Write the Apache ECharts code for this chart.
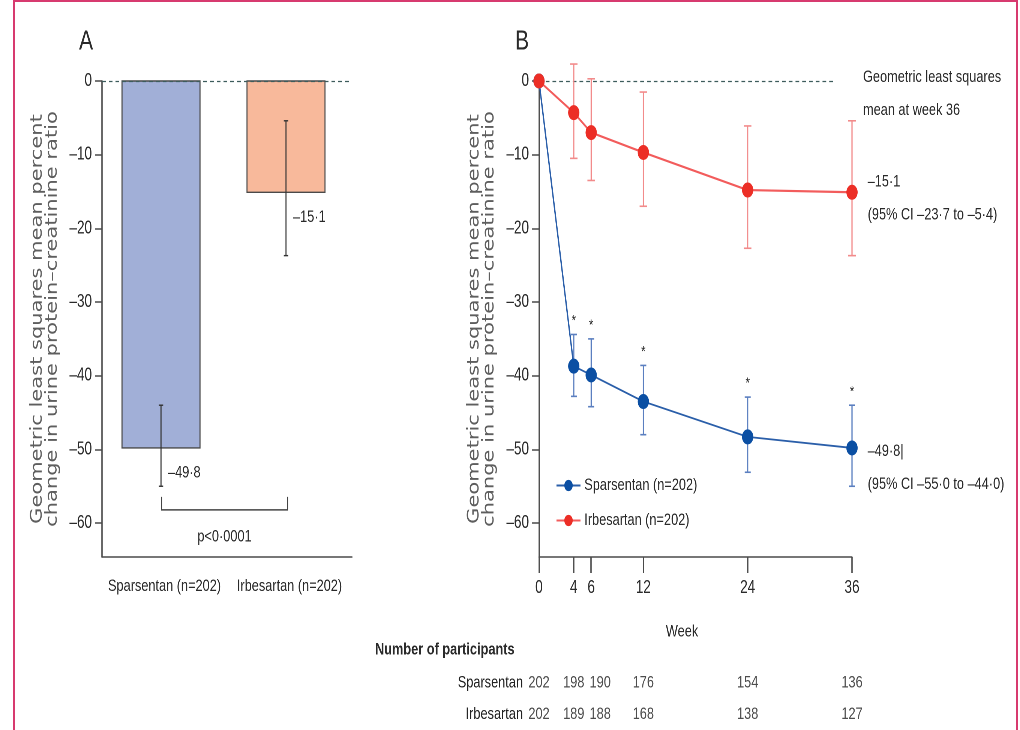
<!DOCTYPE html>
<html>
<head>
<meta charset="utf-8">
<script src="https://cdn.jsdelivr.net/npm/echarts@6/dist/echarts.min.js"></script>
<style>
  html, body { margin: 0; padding: 0; background: #fff; overflow: hidden; width: 1020px; height: 730px; }
  #frame { position: absolute; left: 13px; top: 0px; width: 1001px; height: 740px; border: 2px solid #d73a6f; border-bottom: none; }
  /* the printed figure is squeezed sideways, so the chart is drawn wide and squeezed the same way */
  #chart { position: absolute; left: 0; top: 0; width: 1360px; height: 730px; transform: scaleX(0.75); transform-origin: 0 0; }
</style>
</head>
<body>
<div id="frame"></div>
<div id="chart"></div>
<script>
// panel A: week 36 bars
const groups = ['Sparsentan (n=202)', 'Irbesartan (n=202)'];
const barMean = [-49.8, -15.1];
const barLow = [-55.0, -23.7];
const barHigh = [-44.0, -5.4];
const barText = ['–49·8', '–15·1'];
const yTicks = [0, -10, -20, -30, -40, -50, -60];

// panel B: over time
const weeks = [0, 4, 6, 12, 24, 36];
const sparsMean = [0, -38.7, -39.9, -43.5, -48.3, -49.8];
const sparsLow = [null, -42.8, -44.2, -48.0, -53.1, -55.0];
const sparsHigh = [null, -34.4, -35.0, -38.6, -42.9, -44.0];
const sparsStar = [false, true, true, true, true, true];
const irbMean = [0, -4.3, -7.0, -9.7, -14.8, -15.1];
const irbLow = [null, -10.5, -13.5, -17.0, -22.7, -23.7];
const irbHigh = [null, 2.3, 0.3, -1.5, -6.1, -5.4];
const sparsEnd = ['–49·8|', '(95% CI –55·0 to –44·0)'];
const irbEnd = ['–15·1', '(95% CI –23·7 to –5·4)'];

// number of participants
const rowNames = ['Sparsentan', 'Irbesartan'];
const sparsN = [202, 198, 190, 176, 154, 136];
const irbN = [202, 189, 188, 168, 138, 127];

const S = 0.75;               // horizontal squeeze used in #chart
const X = px => px / S;        // page px -> chart px
const FONT = "'Liberation Sans', Arimo, Arial, sans-serif";
const WIDE = "'DejaVu Sans', Verdana, sans-serif";
const axisColor = '#4a4a4a';
const textColor = '#2a2a2a';
const blue = '#0b4fa3', blueLine = '#2a5ea9', blueBar = '#5b7fc0';
const red = '#ec2e26', redLine = '#f25c5c', redBar = '#f28b8b';
const dash = v => String(v).replace('-', '–');
const yName = 'Geometric least squares mean percent\nchange in urine protein–creatinine ratio';

let myChart = echarts.init(document.getElementById('chart'), null, { devicePixelRatio: 2 });

function txt(x, y, text, size, align, weight) {
  return {
    type: 'text', x: X(x), y: y,
    style: {
      text: text, fill: textColor, fontSize: size, fontFamily: FONT, fontWeight: weight || 'normal',
      align: align, verticalAlign: 'middle', textAlign: align, textVerticalAlign: 'middle', lineHeight: 33
    }
  };
}

function valueY(gridIndex) {
  return {
    gridIndex: gridIndex, type: 'value', min: -64.6, max: 0,
    splitLine: { show: false },
    axisLine: { show: true, lineStyle: { color: axisColor, width: 1.8 } },
    axisTick: { show: true, length: X(7), customValues: yTicks, lineStyle: { color: axisColor, width: 1.5 } },
    axisLabel: { customValues: yTicks, formatter: dash, margin: X(10), color: textColor, fontFamily: FONT, fontSize: 18 },
    name: yName, nameLocation: 'middle', nameRotate: 90, nameGap: X(42),
    nameTextStyle: { fontFamily: WIDE, fontSize: 21, lineHeight: 20, color: '#5e5e5e', align: 'center' }
  };
}

function errorBars(data, lineColor, cap) {
  return {
    type: 'custom', xAxisIndex: 1, yAxisIndex: 1, clip: false, z: 1, silent: true,
    data: data,
    renderItem: function (params, api) {
      const x = api.value(0);
      const lo = api.coord([x, api.value(1)]);
      const hi = api.coord([x, api.value(2)]);
      const st = { stroke: lineColor, lineWidth: 1.6 };
      const kids = [
        { type: 'line', shape: { x1: lo[0], y1: lo[1], x2: hi[0], y2: hi[1] }, style: st },
        { type: 'line', shape: { x1: lo[0] - cap, y1: lo[1], x2: lo[0] + cap, y2: lo[1] }, style: st },
        { type: 'line', shape: { x1: hi[0] - cap, y1: hi[1], x2: hi[0] + cap, y2: hi[1] }, style: st }
      ];
      if (api.value(3)) {
        kids.push({
          type: 'text', x: hi[0], y: hi[1] - 6,
          style: { text: '*', fontSize: 15, fontFamily: FONT, fill: textColor,
                   align: 'center', verticalAlign: 'bottom', textAlign: 'center', textVerticalAlign: 'bottom' }
        });
      }
      return { type: 'group', children: kids };
    }
  };
}

const barData = groups.map((g, i) => [i, barMean[i], barLow[i], barHigh[i]]);
const sparsErr = [], irbErr = [];
weeks.forEach((w, i) => {
  if (sparsLow[i] !== null) sparsErr.push([w, sparsLow[i], sparsHigh[i], sparsStar[i] ? 1 : 0]);
  if (irbLow[i] !== null) irbErr.push([w, irbLow[i], irbHigh[i], 0]);
});

function endLabel(lines, offsetY) {
  return {
    show: true, position: 'right', distance: X(10), offset: [0, offsetY],
    formatter: lines.join('\n'), lineHeight: 33,
    color: textColor, fontFamily: FONT, fontSize: 17
  };
}
const sparsLineData = weeks.map((w, i) => {
  const item = { value: [w, sparsMean[i]] };
  if (i === weeks.length - 1) item.label = endLabel(sparsEnd, 20);
  return item;
});
const irbLineData = weeks.map((w, i) => {
  const item = { value: [w, irbMean[i]] };
  if (i === weeks.length - 1) item.label = endLabel(irbEnd, 6);
  return item;
});

function countSeries(row, counts) {
  return {
    type: 'scatter', xAxisIndex: 2, yAxisIndex: 2, symbolSize: 1, silent: true,
    itemStyle: { color: 'rgba(0,0,0,0)' },
    label: { show: true, position: 'inside', formatter: p => p.value[2], color: '#222', fontFamily: FONT, fontSize: 17 },
    data: weeks.map((w, i) => {
      const item = { value: [w, row, counts[i]] };
      if (w === 6) item.label = { offset: [X(9), 0] };
      return item;
    })
  };
}

let option = {
  animation: false,
  grid: [
    { left: X(102), top: 81, width: X(250), height: 476 },
    { left: X(539), top: 81, width: X(313), height: 476 },
    { left: X(539), top: 667, width: X(313), height: 70 }
  ],
  legend: {
    data: [groups[0], groups[1]],
    orient: 'vertical', left: X(552), top: 472,
    itemWidth: X(24), itemHeight: 14, itemGap: 18,
    textStyle: { fontFamily: FONT, fontSize: 17, color: textColor },
    selectedMode: false
  },
  xAxis: [
    {
      gridIndex: 0, type: 'category', data: groups,
      axisLine: { onZero: false, lineStyle: { color: axisColor, width: 1.5 } },
      axisTick: { length: 16, interval: 0, lineStyle: { color: axisColor, width: 1.8 } },
      axisLabel: { interval: 0, margin: 21, color: textColor, fontFamily: FONT, fontSize: 17 }
    },
    {
      gridIndex: 1, type: 'value', min: 0, max: 36,
      splitLine: { show: false },
      axisLine: { onZero: false, lineStyle: { color: axisColor, width: 1.5 } },
      axisTick: { length: 16, customValues: weeks, lineStyle: { color: axisColor, width: 1.8 } },
      axisLabel: { customValues: weeks, margin: 22, color: textColor, fontFamily: FONT, fontSize: 18 }
    },
    { gridIndex: 2, type: 'value', min: 0, max: 36, show: false }
  ],
  yAxis: [
    valueY(0),
    valueY(1),
    {
      gridIndex: 2, type: 'category', data: rowNames, inverse: true,
      axisLine: { show: false }, axisTick: { show: false }, splitLine: { show: false },
      axisLabel: { margin: X(16), color: '#222', fontFamily: FONT, fontSize: 17 }
    }
  ],
  graphic: {
    elements: [
      txt(86, 42, 'A', 28, 'center'),
      txt(522, 42, 'B', 28, 'center'),
      txt(682, 632, 'Week', 17, 'center'),
      txt(375, 650, 'Number of participants', 17, 'left', 'bold'),
      txt(863, 94, 'Geometric least squares\nmean at week 36', 17, 'left')
    ]
  },
  series: [
    {
      type: 'custom', xAxisIndex: 0, yAxisIndex: 0, clip: false, silent: true,
      data: barData,
      renderItem: function (params, api) {
        const i = params.dataIndex;
        const zero = api.coord([api.value(0), 0]);
        const m = api.coord([api.value(0), api.value(1)]);
        const lo = api.coord([api.value(0), api.value(2)]);
        const hi = api.coord([api.value(0), api.value(3)]);
        const cx = zero[0] - X(3.5), w = X(78);
        const st = { stroke: '#333', lineWidth: 1.4 };
        return {
          type: 'group', children: [
            { type: 'rect', shape: { x: cx - w / 2, y: zero[1], width: w, height: m[1] - zero[1] },
              style: { fill: i === 0 ? '#a1afd7' : '#f8b99b', stroke: '#4a4a4a', lineWidth: 1.4 } },
            { type: 'line', shape: { x1: cx, y1: lo[1], x2: cx, y2: hi[1] }, style: st },
            { type: 'line', shape: { x1: cx - 3, y1: lo[1], x2: cx + 3, y2: lo[1] }, style: st },
            { type: 'line', shape: { x1: cx - 3, y1: hi[1], x2: cx + 3, y2: hi[1] }, style: st },
            { type: 'text', x: cx + X(7), y: m[1] + 25,
              style: { text: barText[i], fontSize: 17, fontFamily: FONT, fill: textColor,
                       align: 'left', verticalAlign: 'middle', textAlign: 'left', textVerticalAlign: 'middle' } }
          ]
        };
      },
      markLine: {
        silent: true, symbol: ['none', 'none'], label: { show: false },
        lineStyle: { type: [5, 4], color: '#3d5c5c', width: 1.3 },
        data: [{ yAxis: 0 }]
      }
    },
    {
      type: 'custom', xAxisIndex: 0, yAxisIndex: 0, clip: false, silent: true,
      data: [[0, 1]],
      renderItem: function (params, api) {
        const l = api.coord([api.value(0), -58.2]);
        const r = api.coord([api.value(1), -58.2]);
        const lx = l[0] - X(3), rx = r[0] - X(2);
        return {
          type: 'group', children: [
            { type: 'polyline', shape: { points: [[lx, l[1] - 13], [lx, l[1]], [rx, r[1]], [rx, r[1] - 13]] },
              style: { stroke: '#444', lineWidth: 1.5, fill: null } },
            { type: 'text', x: (lx + rx) / 2, y: l[1] + 27,
              style: { text: 'p<0·0001', fontSize: 17, fontFamily: FONT, fill: textColor,
                       align: 'center', verticalAlign: 'middle', textAlign: 'center', textVerticalAlign: 'middle' } }
          ]
        };
      }
    },
    errorBars(sparsErr, blueBar, 4),
    errorBars(irbErr, redBar, 5),
    {
      name: groups[0], type: 'line', xAxisIndex: 1, yAxisIndex: 1, clip: false, z: 3,
      symbol: 'circle', symbolSize: [15, 15], showAllSymbol: true,
      itemStyle: { color: blue }, lineStyle: { color: blueLine, width: 1.8 },
      emphasis: { disabled: true },
      data: sparsLineData
    },
    {
      name: groups[1], type: 'line', xAxisIndex: 1, yAxisIndex: 1, clip: false, z: 4,
      symbol: 'circle', symbolSize: [15, 15], showAllSymbol: true,
      itemStyle: { color: red }, lineStyle: { color: redLine, width: 2.2 },
      emphasis: { disabled: true },
      data: irbLineData,
      markLine: {
        silent: true, symbol: ['none', 'none'], label: { show: false }, z: 0,
        lineStyle: { type: [5, 4], color: '#3d5c5c', width: 1.3 },
        data: [[{ coord: [0, 0] }, { coord: [34, 0] }]]
      }
    },
    countSeries(rowNames[0], sparsN),
    countSeries(rowNames[1], irbN)
  ]
};
myChart.setOption(option);
window.addEventListener('resize', function () {
  myChart.resize();
});
</script>
</body>
</html>
